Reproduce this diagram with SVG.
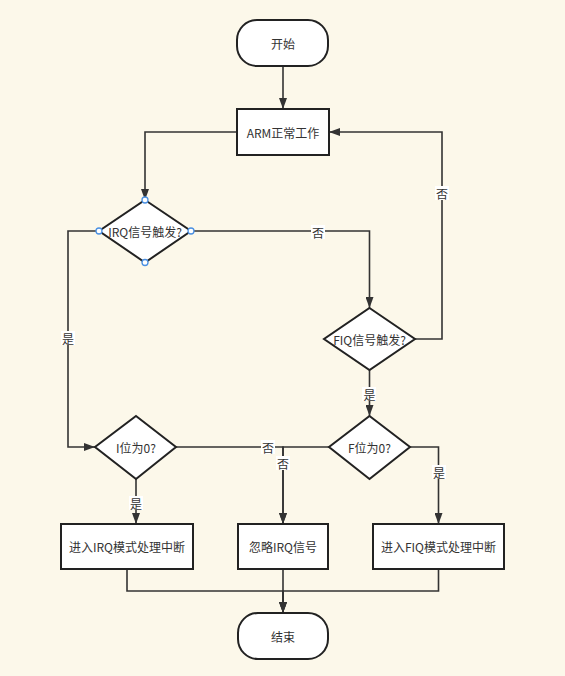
<svg xmlns="http://www.w3.org/2000/svg" width="565" height="676" viewBox="0 0 565 676">
<style>
.bg{fill:#fcf8ea}
.n{fill:#fff;stroke:#222;stroke-width:2}
.c{fill:none;stroke:#333;stroke-width:1.6}
.t{font-family:"Noto Sans CJK SC","Liberation Sans",sans-serif;font-size:12px;fill:#333;text-anchor:middle;dominant-baseline:central}
.lb{fill:#fff}
.h{fill:#fff;stroke:#4a90e2;stroke-width:1.3}
</style>
<defs>
<marker id="a" markerUnits="userSpaceOnUse" markerWidth="11" markerHeight="8" refX="11" refY="4" orient="auto">
<path d="M0,0 L11,4 L0,8 z" fill="#333"/>
</marker>
</defs>
<rect class="bg" width="565" height="676"/>
<g id="connectors">
<path class="c" d="M283,66 V109" marker-end="url(#a)"/>
<path class="c" d="M237,132 H145 V200" marker-end="url(#a)"/>
<path class="c" d="M191,231 H369.5 V308" marker-end="url(#a)"/>
<path class="c" d="M415,339 H442 V132 H329" marker-end="url(#a)"/>
<path class="c" d="M369.5,370 V416" marker-end="url(#a)"/>
<path class="c" d="M99,231 H68 V447 H95" marker-end="url(#a)"/>
<path class="c" d="M136,479 V524" marker-end="url(#a)"/>
<path class="c" d="M176,447 H283 V524" marker-end="url(#a)"/>
<path class="c" d="M329,447 H283 V524" marker-end="url(#a)"/>
<path class="c" d="M410,447 H438.5 V524" marker-end="url(#a)"/>
<path class="c" d="M127,569 V591 H283 V613" marker-end="url(#a)"/>
<path class="c" d="M283,569 V613" marker-end="url(#a)"/>
<path class="c" d="M438.5,569 V591 H283 V613" marker-end="url(#a)"/>
<rect class="lb" x="311" y="225" width="14" height="14"/><text class="t" x="318" y="232">否</text>
<rect class="lb" x="435" y="186" width="14" height="14"/><text class="t" x="442" y="193">否</text>
<rect class="lb" x="362" y="387" width="14" height="14"/><text class="t" x="369.5" y="394">是</text>
<rect class="lb" x="61" y="331" width="14" height="14"/><text class="t" x="68" y="338">是</text>
<rect class="lb" x="129" y="496" width="14" height="14"/><text class="t" x="136" y="503">是</text>
<rect class="lb" x="261" y="440" width="14" height="14"/><text class="t" x="268" y="447">否</text>
<rect class="lb" x="276" y="456" width="14" height="14"/><text class="t" x="283" y="463">否</text>
<rect class="lb" x="432" y="465" width="14" height="14"/><text class="t" x="439" y="472">是</text>
</g>
<g id="start"><rect class="n" x="237" y="20" width="91" height="46" rx="20"/><text class="t" x="283" y="43">开始</text></g>
<g id="arm"><rect class="n" x="237" y="109" width="92" height="46"/><text class="t" x="283" y="132">ARM正常工作</text></g>
<g id="irq"><path class="n" d="M145,200 L191,231 L145,262.5 L99,231 z"/><text class="t" x="145" y="231">IRQ信号触发?</text>
<circle class="h" cx="145" cy="200" r="3"/><circle class="h" cx="191" cy="231" r="3"/><circle class="h" cx="145" cy="262.5" r="3"/><circle class="h" cx="99" cy="231" r="3"/></g>
<g id="fiq"><path class="n" d="M369.5,308 L415,339 L369.5,370 L324,339 z"/><text class="t" x="369.5" y="339">FIQ信号触发?</text></g>
<g id="ibit"><path class="n" d="M136,416 L176,447 L136,479 L95,447 z"/><text class="t" x="136" y="447">I位为0?</text></g>
<g id="fbit"><path class="n" d="M369.5,416 L410,447 L369.5,479 L329,447 z"/><text class="t" x="369.5" y="447">F位为0?</text></g>
<g id="irqmode"><rect class="n" x="61" y="524" width="132" height="45"/><text class="t" x="127" y="546.5">进入IRQ模式处理中断</text></g>
<g id="ignore"><rect class="n" x="238" y="524" width="90" height="45"/><text class="t" x="283" y="546.5">忽略IRQ信号</text></g>
<g id="fiqmode"><rect class="n" x="373" y="524" width="131" height="45"/><text class="t" x="438.5" y="546.5">进入FIQ模式处理中断</text></g>
<g id="end"><rect class="n" x="238" y="613" width="90" height="46" rx="20"/><text class="t" x="283" y="636">结束</text></g>
</svg>
